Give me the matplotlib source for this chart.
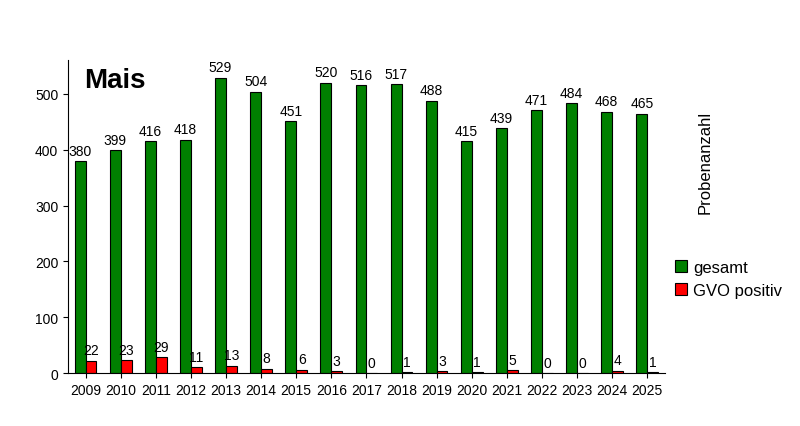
import matplotlib
matplotlib.use("Agg")
import matplotlib.pyplot as plt
import numpy as np

years = [str(y) for y in range(2009, 2026)]
gesamt = [380, 399, 416, 418, 529, 504, 451, 520, 516, 517, 488, 415, 439, 471, 484, 468, 465]
gvo = [22, 23, 29, 11, 13, 8, 6, 3, 0, 1, 3, 1, 5, 0, 0, 4, 1]

plt.rcParams['font.family'] = ['Liberation Sans', 'DejaVu Sans']
fig = plt.figure(figsize=(8, 4.27), dpi=100)
ax = fig.add_axes([0.085, 0.124, 0.746, 0.732])
x = np.arange(len(years))
w = 0.31
b1 = ax.bar(x - w/2, gesamt, w, color='#008000', edgecolor='black', linewidth=0.8, label='gesamt')
b2 = ax.bar(x + w/2, gvo, w, color='#ff0000', edgecolor='black', linewidth=0.8, label='GVO positiv')
for xi, v in zip(x, gesamt):
    ax.text(xi - w/2, v + 6, str(v), ha='center', va='bottom', fontsize=10)
for xi, v in zip(x, gvo):
    ax.text(xi + w/2, v + 6, str(v), ha='center', va='bottom', fontsize=10)
ax.set_xlim(-0.5, len(years) - 0.5)
ax.set_ylim(0, 560)
ax.set_yticks([0, 100, 200, 300, 400, 500])
ax.set_xticks(x)
ax.set_xticklabels(years)
ax.tick_params(labelsize=10)
for s in ['top', 'right']:
    ax.spines[s].set_visible(False)
fig.text(0.105, 0.81, 'Mais', fontsize=20, fontweight='bold', ha='left', va='center')
fig.text(0.882, 0.62, 'Probenanzahl', rotation=90, fontsize=12, ha='center', va='center')
fig.legend(handles=[b1, b2], loc='center left', bbox_to_anchor=(0.825, 0.345), frameon=False, fontsize=12,
           handlelength=0.7, handleheight=0.7, handletextpad=0.4)
fig.savefig('out.png', dpi=100)
